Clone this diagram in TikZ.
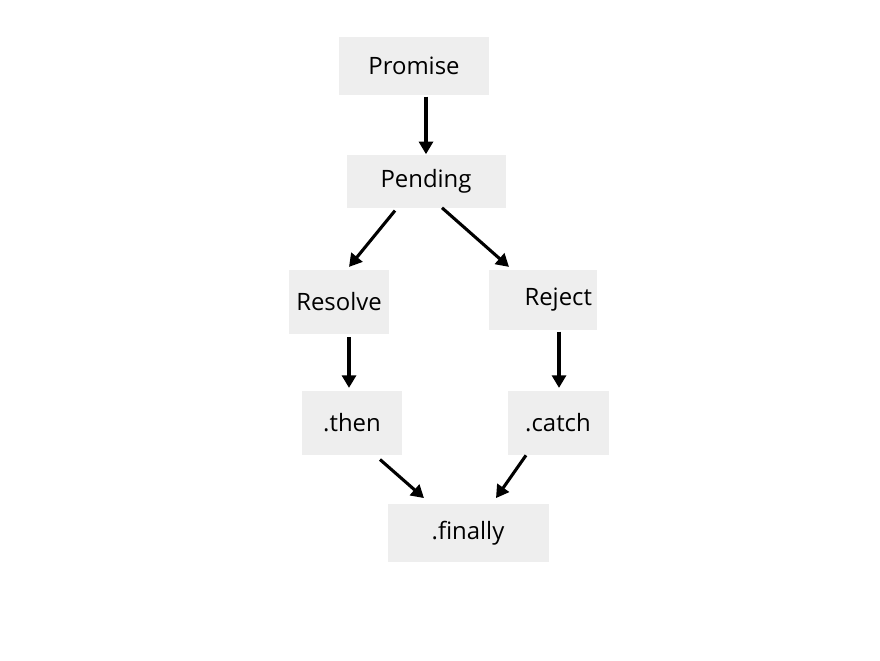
\documentclass[tikz,border=0pt]{standalone}
\usepackage{fontspec}
\setmainfont{Open Sans}
\usetikzlibrary{arrows.meta}
\definecolor{boxgray}{HTML}{EEEEEE}
\tikzset{
  state/.style={fill=boxgray, inner sep=0pt, font=\fontsize{17}{20}\selectfont},
  flow edge/.style={draw=black, line width=2.2pt, -{Triangle[length=9pt,width=10pt]}}
}

\begin{document}
\begin{tikzpicture}[x=0.025cm, y=-0.025cm]
	\useasboundingbox (0,0) rectangle (880,660);
	% states
	\node [state, minimum width=150*0.025cm, minimum height=58*0.025cm] (promise) at (414,66) {Promise};
	\node [state, minimum width=159*0.025cm, minimum height=53*0.025cm] (pending) at (426,181) {Pending};
	\node [state, minimum width=100*0.025cm, minimum height=64*0.025cm] (resolve) at (339,302) {Resolve};
	\node [state, minimum width=108*0.025cm, minimum height=60*0.025cm, text width=98*0.025cm, align=right] (reject) at (543,300) {Reject};
	\node [state, minimum width=100*0.025cm, minimum height=64*0.025cm] (then) at (352,423) {.then};
	\node [state, minimum width=101*0.025cm, minimum height=64*0.025cm] (catch) at (558,423) {.catch};
	\node [state, minimum width=161*0.025cm, minimum height=58*0.025cm] (finally) at (468,533) {.finally};
	% edges
	\draw [flow edge] ([xshift=12*0.025cm, yshift=-1pt]promise.south) -- (pending.north);
	\draw [flow edge] ([xshift=-31*0.025cm, yshift=-2pt]pending.south) -- ([xshift=10*0.025cm, yshift=2pt]resolve.north);
	\draw [flow edge] ([xshift=16*0.025cm]pending.south) -- ([xshift=-34*0.025cm, yshift=2pt]reject.north);
	\draw [flow edge] ([xshift=10*0.025cm, yshift=-2pt]resolve.south) -- ([xshift=-3*0.025cm, yshift=2pt]then.north);
	\draw [flow edge] ([xshift=16*0.025cm, yshift=-1pt]reject.south) -- ([xshift=1*0.025cm, yshift=2pt]catch.north);
	\draw [flow edge] ([xshift=28*0.025cm, yshift=-3pt]then.south) -- ([xshift=-44*0.025cm, yshift=4pt]finally.north);
	\draw [flow edge] ([xshift=-32*0.025cm]catch.south) -- ([xshift=28*0.025cm, yshift=4pt]finally.north);
\end{tikzpicture}
\end{document}
